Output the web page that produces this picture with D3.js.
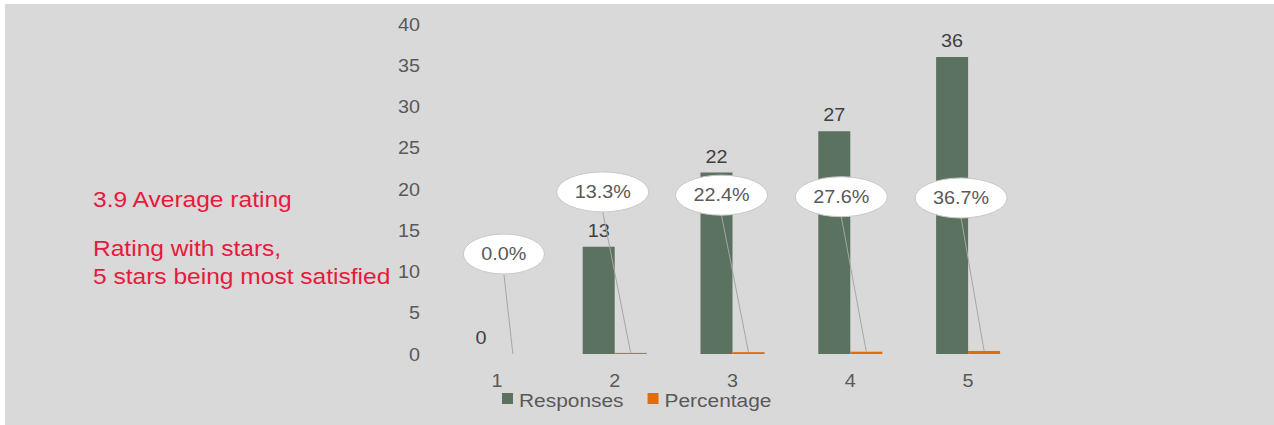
<!DOCTYPE html>
<html>
<head>
<meta charset="utf-8">
<script src="https://cdn.jsdelivr.net/npm/d3@7"></script>
<style>
  html, body { margin: 0; padding: 0; background: #ffffff; }
  svg { display: block; }
  text { font-family: "Liberation Sans", Arial, sans-serif; }
</style>
</head>
<body>
<script>
// Star-rating survey results
const categories = ["1", "2", "3", "4", "5"];
const responses = [0, 13, 22, 27, 36];
const percentage = [0.0, 0.133, 0.224, 0.276, 0.367];
const percentLabels = ["0.0%", "13.3%", "22.4%", "27.6%", "36.7%"];
const yTicks = [0, 5, 10, 15, 20, 25, 30, 35, 40];
const seriesNames = ["Responses", "Percentage"];
const noteLines = ["3.9 Average rating", "Rating with stars,", "5 stars being most satisfied"];

// Callout placement (pixel shift of each bubble from its bar top)
const calloutShift = [[-9, -100], [-28, -161], [-27, -157], [-25, -155], [-23, -153]];

const W = 1274, H = 425;
const colors = { Responses: "#5b7260", Percentage: "#e36c0a" };
const textGrey = "#595959";
const labelGrey = "#404040";
const red = "#e8193c";
const sx = 1.1; // horizontal glyph stretch

const svg = d3.select("body").append("svg").attr("width", W).attr("height", H);

svg.append("rect").attr("x", 5).attr("y", 4).attr("width", W - 5).attr("height", H - 4).attr("fill", "#d9d9d9");

// stretched text helper
function addText(g, x, y, str, opts) {
  const t = g.append("g").attr("transform", `translate(${x},${y}) scale(${opts.stretch || sx},1)`)
    .append("text")
    .attr("text-anchor", opts.anchor || "start")
    .attr("font-size", opts.size)
    .attr("fill", opts.fill)
    .text(str);
  return t;
}

const x = d3.scaleBand().domain(categories).range([438, 1027]).padding(0);
const groupW = 64;
const xi = d3.scaleBand().domain(seriesNames)
  .range([x.bandwidth() / 2 - groupW / 2, x.bandwidth() / 2 + groupW / 2]);
const y = d3.scaleLinear().domain([0, 40]).range([354, 24]);

// y-axis labels (no line, no ticks)
const yAxis = d3.axisLeft(y).tickValues(yTicks).tickSize(0).tickPadding(0).tickFormat(d3.format("d"));
const ya = svg.append("g").attr("transform", "translate(420,0)").call(yAxis);
ya.select(".domain").remove();
ya.selectAll(".tick text").remove();
ya.selectAll(".tick").each(function(d) {
  addText(d3.select(this), 0, 6, String(d), { anchor: "end", size: 18, fill: textGrey });
});

// x-axis labels
const xAxis = d3.axisBottom(x).tickSize(0).tickPadding(0);
const xa = svg.append("g").attr("transform", "translate(0,354)").call(xAxis);
xa.select(".domain").remove();
xa.selectAll(".tick text").remove();
xa.selectAll(".tick").each(function(d) {
  addText(d3.select(this), 0, 33, d, { anchor: "middle", size: 18, fill: textGrey });
});

const rows = categories.map((c, i) => ({ c, i, r: responses[i], p: percentage[i], pl: percentLabels[i] }));

// Responses bars
svg.append("g").selectAll("rect").data(rows).join("rect")
  .attr("x", d => x(d.c) + xi("Responses"))
  .attr("width", xi.bandwidth())
  .attr("y", d => y(d.r))
  .attr("height", d => y(0) - y(d.r))
  .attr("fill", colors.Responses);

// Percentage bars
svg.append("g").selectAll("rect").data(rows).join("rect")
  .attr("x", d => x(d.c) + xi("Percentage"))
  .attr("width", xi.bandwidth())
  .attr("y", d => y(d.p))
  .attr("height", d => y(0) - y(d.p))
  .attr("fill", colors.Percentage);

// Response value labels
const rl = svg.append("g");
rows.forEach(d => {
  const cx = x(d.c) + xi("Responses") + xi.bandwidth() / 2;
  addText(rl, cx, y(d.r) - 10, String(d.r), { anchor: "middle", size: 18, fill: labelGrey });
});

// Percentage callouts with leader lines
const cl = svg.append("g");
rows.forEach(d => {
  const bx = x(d.c) + xi("Percentage") + xi.bandwidth() / 2;
  const by = y(d.p);
  const cx = bx + calloutShift[d.i][0];
  const cy = by + calloutShift[d.i][1];
  const g = cl.append("g");
  const line = g.append("line").attr("stroke", "#a6a6a6").attr("stroke-width", 1);
  const ell = g.append("ellipse").attr("fill", "#ffffff").attr("stroke", "#c8c8c8").attr("stroke-width", 1);
  const t = addText(g, cx, cy + 6, d.pl, { anchor: "middle", size: 18, fill: textGrey });
  const w = t.node().getComputedTextLength() * sx;
  const rx = w / 2 + 18, ry = 20;
  ell.attr("cx", cx).attr("cy", cy).attr("rx", rx).attr("ry", ry);
  line.attr("x1", cx).attr("y1", cy + ry).attr("x2", bx).attr("y2", by);
});

// Legend
const lg = svg.append("g").attr("transform", "translate(502,393)");
let lx = 0;
seriesNames.forEach(name => {
  lg.append("rect").attr("x", lx).attr("y", 0).attr("width", 11).attr("height", 11).attr("fill", colors[name]);
  const t = addText(lg, lx + 17, 14, name, { size: 19, fill: textGrey });
  lx += 17 + t.node().getComputedTextLength() * sx + 24;
});

// Side note
const note = svg.append("g");
const noteStretch = 1.116;
addText(note, 93, 207, noteLines[0], { size: 22, fill: red, stretch: noteStretch });
addText(note, 93, 256, noteLines[1], { size: 22, fill: red, stretch: noteStretch });
addText(note, 93, 284, noteLines[2], { size: 22, fill: red, stretch: noteStretch });
</script>
</body>
</html>
